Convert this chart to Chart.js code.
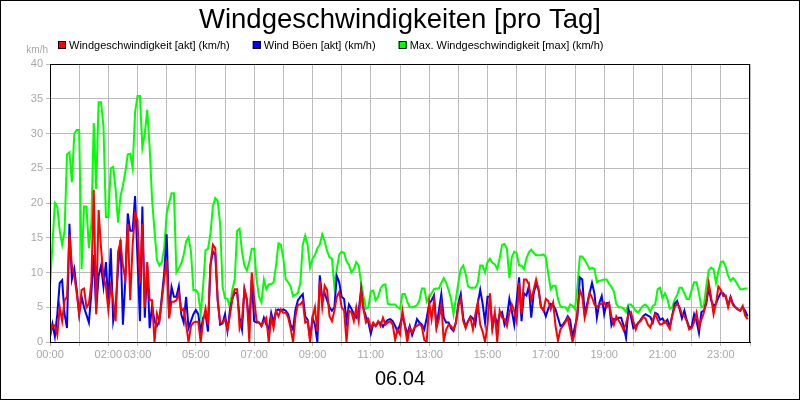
<!DOCTYPE html>
<html>
<head>
<meta charset="utf-8">
<script src="https://cdn.jsdelivr.net/npm/chart.js@4.4.1/dist/chart.umd.min.js"></script>
<style>
  html, body { margin: 0; padding: 0; background: #fff; }
  #grafico { display: block; }
</style>
</head>
<body>
<canvas id="grafico" width="800" height="400"></canvas>
<script>
// Messwerte alle 5 Minuten, eine Zeile pro Stunde (km/h)
var intervall = 5;

var windAkt = [
  1, 2.4, 2.4, 1, 5, 3, 6, 6.5, 15.5, 11, 9.5, 7,
  4, 7.5, 7.7, 5, 5.5, 8.5, 21.9, 4, 19, 13.5, 9.4, 8,
  4.6, 8, 6, 3, 13, 14.4, 11, 9, 17, 6, 14, 18.5,
  17.5, 8.5, 17, 5, 11.5, 6, 6, 0, 4.1, 3, 6, 9,
  11.8, 3.4, 5.8, 5.8, 6, 7, 4.5, 4.8, 2.5, 0, 2.3, 2.8,
  2.9, 2.9, 0, 3, 4.8, 2.5, 11, 14, 13.5, 6, 2.8, 2.8,
  3.3, 1.8, 3.7, 6.2, 7.6, 7.6, 2, 3.3, 7.6, 6.2, 0, 10,
  6.2, 3, 2.8, 2.3, 3, 3.5, 0, 3.5, 2, 4.5, 3.7, 4.7,
  4.2, 4.2, 3.5, 2, 0, 3.7, 5.4, 5.4, 5.9, 2.8, 3, 0,
  3.5, 5, 1.5, 8.8, 5, 8.1, 7.5, 3.7, 3, 4.5, 6.5, 7.2,
  5, 4.5, 0, 4.5, 4.3, 3, 5, 3, 7.4, 4.7, 2.8, 3.3,
  2, 2.8, 2.3, 3, 2.3, 3.5, 2.5, 2.8, 3, 2.5, 0.3, 1.8,
  1.1, 4.5, 2.3, 0, 2.1, 1.4, 2.1, 2.3, 2.6, 2.2, 0.3, 0,
  5.7, 3.3, 6, 2, 3.3, 5.4, 0.1, 1.8, 2.5, 2.3, 1.8, 2.8,
  5.2, 6.2, 3, 2, 3, 3.5, 1.8, 4, 5.7, 2.5, 1.5, 0,
  2.5, 7, 2, 4.3, 0, 4.5, 3.5, 3.3, 2.3, 4.2, 5.4, 4.5,
  3, 8.5, 4, 9, 9, 8.3, 6, 7.5, 9, 7.6, 5, 4.5,
  6.2, 5.9, 4.7, 5.7, 2.3, 0.2, 1.8, 2.3, 2.8, 3.5, 1.8, 0,
  1.5, 4.5, 7.5, 6.5, 3.5, 5, 7.1, 6.4, 5.4, 5, 5.4, 5.5,
  5.7, 5, 5.6, 3.7, 2.5, 3.7, 3.1, 2.5, 1.7, 2.7, 4, 4.3,
  3, 1.8, 2.8, 3, 3.6, 3.4, 2.5, 2.1, 3.2, 4, 3.2, 2.5,
  2.6, 3, 2.5, 1.9, 3.8, 5, 5.5, 5, 4, 3.7, 3, 1.8,
  2, 2.8, 4.2, 2.2, 3.2, 4.2, 5.8, 8.5, 6.5, 4, 5.5, 8,
  7.5, 6.6, 6.7, 5, 6.3, 5.3, 5, 4.7, 4.5, 5.2, 3.8, 3.3
];

var boeenAkt = [
  0.7, 2.6, 0.8, 4, 8.5, 8.9, 4, 2, 17, 9, 10.5, 7.5,
  4, 6.5, 5, 3.9, 2.8, 7, 12.5, 4.5, 9.5, 11, 8, 11.5,
  5.5, 13.5, 3, 5, 10.5, 14.7, 2.5, 9, 18.5, 16, 16, 21,
  12, 3, 19.5, 3.5, 11, 2, 5.2, 3, 2.3, 3, 6.5, 10,
  15.5, 4, 7.9, 6.5, 6.5, 8, 4, 2.8, 6.5, 2, 3, 4,
  4.6, 4, 1.5, 3.5, 4, 1.5, 11, 13, 12.5, 6, 2.5, 2.7,
  4, 1.6, 4.5, 6.2, 7.1, 7, 3.5, 1.8, 7.6, 6, 2.5, 9,
  3, 2.8, 2.8, 2.3, 3.5, 2.5, 1.8, 4.2, 2.8, 4.5, 4.7, 4.5,
  4.7, 4.5, 4, 2.5, 1.8, 4.7, 6, 6.5, 6.9, 3.7, 3.2, 0.5,
  3.5, 2.5, 0, 9.6, 6.3, 7, 6, 5, 4.5, 5, 9.5, 8.6,
  6.5, 6.2, 3, 5.4, 4.8, 4, 3.5, 4.5, 7.6, 4.7, 3.7, 2.8,
  1.2, 2.6, 2.3, 2.8, 2.8, 2.2, 2.8, 3.2, 3.3, 3, 2.3, 1.5,
  2.5, 3.7, 2.4, 1.1, 2.3, 1, 2, 3.3, 2.8, 2.5, 1.8, 3.5,
  5.5, 6, 6.7, 2.3, 4.5, 6.9, 3.5, 2.8, 2.8, 2, 1.6, 2.8,
  5.5, 6.9, 3.5, 2.2, 3, 3.7, 3.4, 2.5, 5.5, 7.5, 5.5, 2.8,
  6.5, 6.5, 2, 3.8, 2.5, 4, 4.3, 2.5, 3.5, 6.2, 4.5, 2.5,
  6, 9.3, 3, 7, 6.7, 8, 3.5, 7, 8.3, 7.6, 5, 4.7,
  3.7, 4.8, 5.5, 5.3, 4.7, 3.5, 2.3, 2.5, 3, 3.7, 3.2, 0.7,
  2.3, 3.7, 9.3, 9, 4, 5.5, 7, 8.5, 7, 3.5, 5.6, 6.6,
  4, 5.6, 5.6, 2.4, 3.3, 3.2, 3.5, 3.5, 2.3, 0.6, 4.7, 3.7,
  2, 2.3, 2.7, 3.2, 3.7, 4, 3.8, 3.6, 2.8, 4.2, 4, 3.2,
  3.4, 2.8, 3.2, 2.2, 3.8, 5.5, 5.9, 4.8, 3.4, 4.5, 3.1, 2.1,
  2.2, 4, 3, 1.3, 4.3, 4.5, 5.5, 7.8, 6, 5.2, 5.5, 6.4,
  7.1, 7, 6.5, 5.3, 6.5, 5.5, 5, 4.7, 4.5, 5, 4.5, 3.7
];

var windMax = [
  8, 14, 20, 19.5, 16, 14, 16, 27, 27.3, 23, 30, 30.5,
  30.5, 10.5, 19.5, 19.5, 13.5, 17, 31.5, 22, 34.5, 34.5, 31, 18,
  18, 25, 25.2, 22, 17.2, 21, 22.5, 24.5, 27, 27.1, 25, 33,
  35.4, 35.4, 28, 30, 33.4, 28, 20.5, 16, 11.8, 11, 11.5, 13.5,
  18.5, 20, 21.4, 21.4, 10, 10.6, 11.3, 12.5, 14.5, 15.1, 13, 7.5,
  7.5, 7, 4, 8, 13.2, 13.4, 15.5, 19.5, 20.7, 20.3, 17, 8,
  6.3, 6.2, 5, 7.5, 9, 16, 16.3, 13, 11, 10.3, 11.5, 13.4,
  13.4, 9, 6.5, 5.7, 9, 7.6, 8.3, 8.3, 8.6, 11, 14.2, 14,
  12, 9, 8.6, 8, 6.6, 6.8, 7.1, 8.5, 14, 15.3, 14, 10.7,
  12, 12.5, 13.5, 14, 15.5, 14.5, 13.1, 12.2, 12, 8, 10.5, 12.6,
  13, 12.8, 11.6, 11.1, 10, 10.5, 11.5, 11, 8.5, 6.5, 4.8, 5,
  7.3, 7.4, 6, 6.5, 7.7, 8.2, 8.3, 5.5, 5.4, 5.4, 5.4, 5,
  4.8, 6.9, 6.9, 5.8, 5, 5, 5.1, 5.3, 6, 7.7, 7.7, 5.8,
  6.4, 7, 7.6, 7.7, 7.7, 8.5, 9.2, 8.5, 7.5, 6.2, 4, 6.2,
  8.5, 10.5, 11, 9.8, 8, 7.8, 7.8, 7.8, 8.5, 11, 11, 10,
  11.5, 12, 11.4, 11.2, 10.5, 12, 14, 14.1, 13.4, 9.2, 12.2, 13,
  12.8, 11, 11, 10.5, 12, 12.9, 13.3, 12.8, 12.5, 12.5, 12.5, 12.6,
  12.2, 9.8, 7.6, 8.1, 8.1, 6.2, 5.1, 5, 5, 4.5, 5.4, 5.2,
  4.7, 8, 12.3, 12.3, 11.8, 11.2, 10.5, 10.7, 10.5, 8.6, 8.8, 8.9,
  9, 9, 8.4, 7.9, 7.3, 5.5, 5, 5, 4.8, 4.3, 5.4, 5.4,
  5, 4.5, 4.2, 4.8, 5.2, 5.4, 5, 4.3, 5.2, 5.4, 7.6, 7.8,
  6.3, 7, 6.2, 4.8, 5, 6.1, 6.7, 7.8, 7.8, 7, 6.2, 6.2,
  7.5, 8.6, 8.6, 7, 5, 5.2, 8, 10.3, 10.7, 10.5, 8.5, 10.2,
  11.5, 11.6, 10.8, 9.5, 8.8, 9.2, 8.8, 8.2, 7.6, 7.6, 7.7, 7.7
];

var stunden = [0, 1, 2, 3, 4, 5, 6, 7, 8, 9, 10, 11, 12, 13, 14, 15, 16, 17, 18, 19, 20, 21, 22, 23, 24];
var stundenMitText = [0, 2, 3, 5, 7, 9, 11, 13, 15, 17, 19, 21, 23];
var yTicks = [0, 5, 10, 15, 20, 25, 30, 35, 40];

var titel = "Windgeschwindigkeiten [pro Tag]";
var datum = "06.04";
var einheit = "km/h";
var legende = [
  { text: "Windgeschwindigkeit [akt] (km/h)", farbe: "#ff0000" },
  { text: "Wind Böen [akt] (km/h)", farbe: "#0000ff" },
  { text: "Max. Windgeschwindigkeit [max] (km/h)", farbe: "#00ff00" }
];

function punkte(werte) {
  var p = [];
  for (var i = 0; i < werte.length; i++) {
    p.push({ x: i * intervall, y: werte[i] });
  }
  return p;
}

function zweistellig(n) {
  return (n < 10 ? "0" : "") + n;
}

var schrift = "'Liberation Sans', Arial, sans-serif";

// Titel, Legende, Rahmen usw. selbst zeichnen
var rahmen = {
  id: "rahmen",
  beforeDraw: function (chart) {
    var c = chart.ctx;
    c.save();
    c.fillStyle = "#fff";
    c.fillRect(0, 0, chart.width, chart.height);
    c.restore();
  },
  afterDraw: function (chart) {
    var c = chart.ctx;
    var a = chart.chartArea;
    c.save();
    c.strokeStyle = "#000";
    c.lineWidth = 1;
    c.strokeRect(Math.round(a.left) + 0.5, Math.round(a.top) + 0.5,
      Math.round(a.right - a.left) - 1, Math.round(a.bottom - a.top));
    c.strokeRect(0.5, 0.5, chart.width - 1, chart.height - 1);

    c.fillStyle = "#000";
    c.textAlign = "center";
    c.textBaseline = "alphabetic";
    c.font = "27.5px " + schrift;
    c.fillText(titel, 400, 28);

    c.font = "20px " + schrift;
    c.fillText(datum, 400, 385);

    c.font = "10px " + schrift;
    c.fillStyle = "#a8a8a8";
    c.textAlign = "right";
    c.textBaseline = "middle";
    c.fillText(einheit, 48, 50);

    c.font = "11px " + schrift;
    c.textAlign = "left";
    var x = 58;
    for (var i = 0; i < legende.length; i++) {
      c.fillStyle = legende[i].farbe;
      c.fillRect(x, 41, 8, 8);
      c.strokeStyle = "#000";
      c.strokeRect(x + 0.5, 41.5, 7, 7);
      c.fillStyle = "#000";
      c.fillText(legende[i].text, x + 11, 45.5);
      x += 11 + c.measureText(legende[i].text).width + 23;
    }
    c.restore();
  }
};

var ctx = document.getElementById("grafico");

new Chart(ctx, {
  type: "line",
  data: {
    datasets: [
      {
        label: legende[0].text,
        data: punkte(windAkt),
        borderColor: "#ff0000",
        borderWidth: 2,
        pointRadius: 0,
        tension: 0
      },
      {
        label: legende[1].text,
        data: punkte(boeenAkt),
        borderColor: "#0000ff",
        borderWidth: 2,
        pointRadius: 0,
        tension: 0
      },
      {
        label: legende[2].text,
        data: punkte(windMax),
        borderColor: "#00ff00",
        borderWidth: 2,
        pointRadius: 0,
        tension: 0
      }
    ]
  },
  options: {
    responsive: false,
    animation: false,
    devicePixelRatio: 1,
    layout: {
      padding: { top: 64, left: 0, right: 50, bottom: 0 }
    },
    scales: {
      x: {
        type: "linear",
        min: 0,
        max: 1440,
        afterBuildTicks: function (scale) {
          scale.ticks = stunden.map(function (h) { return { value: h * 60 }; });
        },
        afterFit: function (scale) {
          scale.height = 58;
        },
        ticks: {
          autoSkip: false,
          maxRotation: 0,
          padding: 2,
          color: "#a8a8a8",
          font: { size: 11, family: schrift },
          callback: function (value) {
            var h = value / 60;
            if (stundenMitText.indexOf(h) < 0) {
              return "";
            }
            return zweistellig(h) + ":00";
          }
        },
        grid: {
          color: "#bcbcbc",
          tickLength: 4
        },
        border: { color: "#000", width: 1 }
      },
      y: {
        min: 0,
        max: 40,
        afterBuildTicks: function (scale) {
          scale.ticks = yTicks.map(function (v) { return { value: v }; });
        },
        afterFit: function (scale) {
          scale.width = 50;
        },
        ticks: {
          padding: 3,
          color: "#a8a8a8",
          font: { size: 11, family: schrift }
        },
        grid: {
          color: "#bcbcbc",
          tickLength: 4
        },
        border: { color: "#000", width: 1 }
      }
    },
    plugins: {
      legend: { display: false },
      title: { display: false },
      tooltip: { enabled: false }
    }
  },
  plugins: [rahmen]
});
</script>
</body>
</html>
